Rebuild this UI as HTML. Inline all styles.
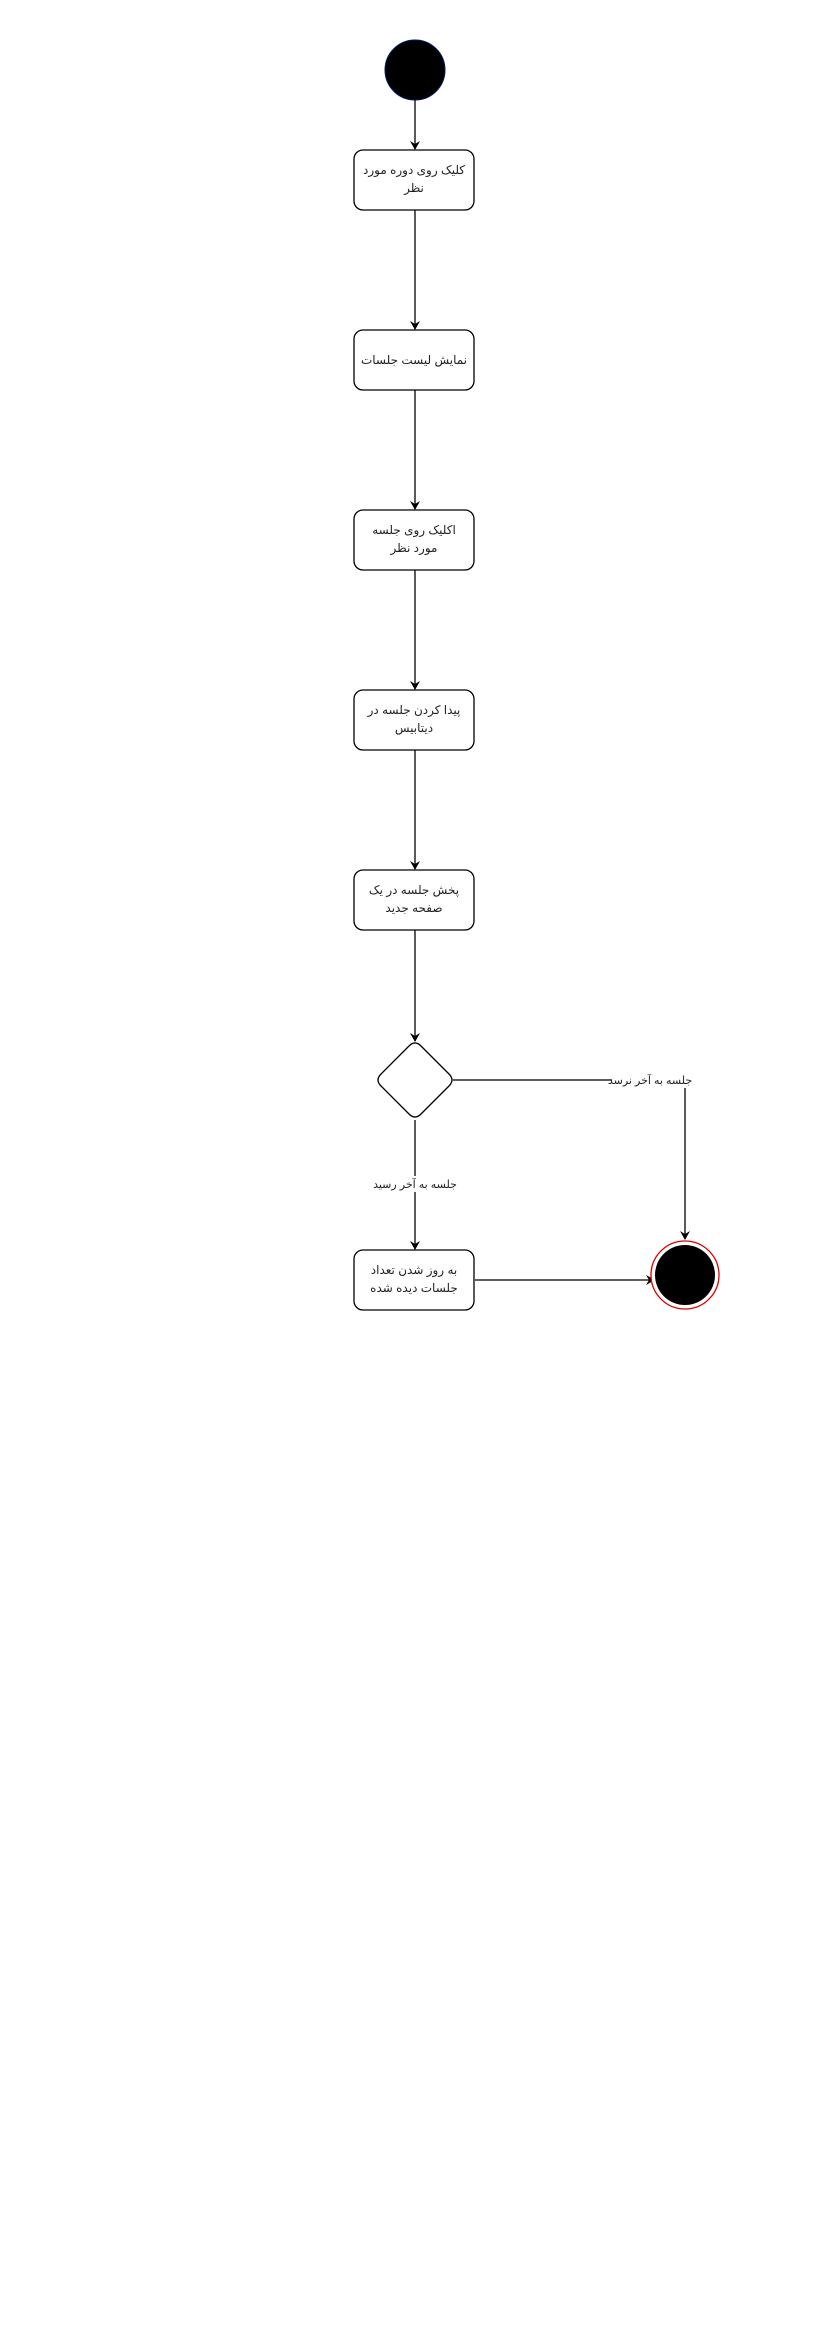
<!DOCTYPE html>
<html><head><meta charset="utf-8"><style>
html,body{margin:0;padding:0;background:#fff;}
svg text{font-family:"Liberation Sans","DejaVu Sans",sans-serif;}
</style></head><body>
<svg width="827" height="2338" viewBox="0 0 827 2338" xmlns="http://www.w3.org/2000/svg">
<defs><marker id="a" markerWidth="10" markerHeight="10" refX="8" refY="5" orient="auto" markerUnits="userSpaceOnUse"><path d="M0,0 L9,5 L0,10 L3,5 Z" fill="#000"/></marker></defs>
<circle cx="415" cy="70" r="30" fill="#000" stroke="#001a66" stroke-width="1"/>
<g stroke="#000" stroke-width="1.3" fill="none">
<line x1="415" y1="100" x2="415" y2="149" marker-end="url(#a)"/>
<line x1="415" y1="210" x2="415" y2="329" marker-end="url(#a)"/>
<line x1="415" y1="390" x2="415" y2="509" marker-end="url(#a)"/>
<line x1="415" y1="570" x2="415" y2="689" marker-end="url(#a)"/>
<line x1="415" y1="750" x2="415" y2="869" marker-end="url(#a)"/>
<line x1="415" y1="930" x2="415" y2="1041" marker-end="url(#a)"/>
<line x1="415" y1="1120" x2="415" y2="1249" marker-end="url(#a)"/>
<line x1="453" y1="1080" x2="612" y2="1080"/>
<line x1="685" y1="1088" x2="685" y2="1239" marker-end="url(#a)"/>
<line x1="475" y1="1280" x2="654" y2="1280" marker-end="url(#a)"/>
<rect x="354" y="150" width="120" height="60" rx="9"/>
<rect x="354" y="330" width="120" height="60" rx="9"/>
<rect x="354" y="510" width="120" height="60" rx="9"/>
<rect x="354" y="690" width="120" height="60" rx="9"/>
<rect x="354" y="870" width="120" height="60" rx="9"/>
<rect x="354" y="1250" width="120" height="60" rx="9"/>
<path d="M409,1046 Q415,1040 421,1046 L449,1074 Q455,1080 449,1086 L421,1114 Q415,1120 409,1114 L381,1086 Q375,1080 381,1074 Z"/>
</g>
<circle cx="685" cy="1275" r="34" fill="#fff" stroke="#d00" stroke-width="1.3"/>
<circle cx="685" cy="1275" r="30" fill="#000"/>
<g font-size="12" fill="#222" text-anchor="middle" direction="rtl">
<text x="414" y="174">کلیک روی دوره مورد</text><text x="414" y="192">نظر</text>
<text x="414" y="364">نمایش لیست جلسات</text>
<text x="414" y="534">اکلیک روی جلسه</text><text x="414" y="552">مورد نظر</text>
<text x="414" y="714">پیدا کردن جلسه در</text><text x="414" y="732">دیتابیس</text>
<text x="414" y="894">پخش جلسه در یک</text><text x="414" y="912">صفحه جدید</text>
<text x="414" y="1274">به روز شدن تعداد</text><text x="414" y="1292">جلسات دیده شده</text>
</g>
<rect x="380" y="1176" width="70" height="16" fill="#fff"/>
<text x="415" y="1188" font-size="11" fill="#222" text-anchor="middle" direction="rtl">جلسه به آخر رسید</text>
<text x="650" y="1084" font-size="11" fill="#222" text-anchor="middle" direction="rtl">جلسه به آخر نرسد</text>
</svg>
</body></html>
